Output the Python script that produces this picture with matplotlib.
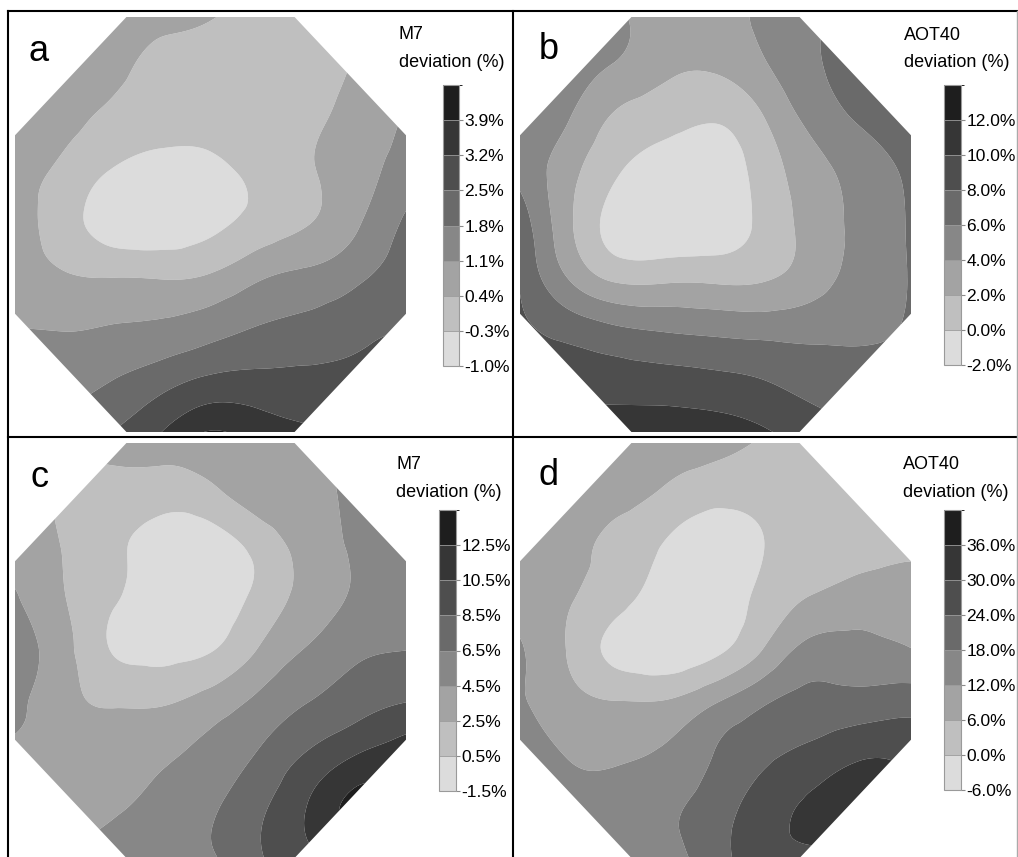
import numpy as np
import matplotlib as mpl
import matplotlib.pyplot as plt
import matplotlib.tri as mtri
from matplotlib.patches import Polygon
from matplotlib.lines import Line2D
from matplotlib.colors import ListedColormap, BoundaryNorm

plt.rcParams['font.family'] = ['Liberation Sans', 'DejaVu Sans']

W, H = 1018, 857

# Sample positions across the octagon's bounding box (0 = left / top edge)
GRID_U = [0.0, 0.125, 0.25, 0.375, 0.5, 0.625, 0.75, 0.875, 1.0]
GRID_V = [0.0, 0.125, 0.25, 0.375, 0.5, 0.625, 0.75, 0.875, 1.0]

# Deviation fields (%), rows run from the top of the domain to the bottom
M7_A = [
    [1.10, 0.96, 0.82, 0.68, 0.44, 0.12, 0.05, 0.40, 0.75],
    [1.03, 0.82, 0.61, 0.12, 0.05, -0.02, 0.12, 0.47, 0.89],
    [0.75, 0.58, 0.19, -0.09, -0.09, 0.02, 0.26, 0.68, 1.17],
    [0.61, 0.23, -0.37, -0.62, -0.51, -0.09, 0.33, 0.82, 1.38],
    [0.58, 0.05, -0.65, -0.76, -0.48, -0.02, 0.39, 1.03, 1.94],
    [0.72, 0.47, 0.37, 0.33, 0.47, 1.00, 1.28, 1.66, 2.15],
    [1.10, 1.07, 1.14, 1.24, 1.52, 1.84, 2.01, 2.29, 2.50],
    [1.52, 1.52, 1.80, 2.22, 2.64, 2.71, 2.71, 2.71, 2.85],
    [1.80, 2.01, 2.50, 3.20, 3.94, 3.55, 3.27, 3.06, 2.99],
]
AOT40_B = [
    [5.2, 4.8, 4.2, 3.2, 3.2, 4.5, 5.8, 6.4, 6.8],
    [5.8, 4.8, 3.7, 2.4, 2.2, 3.7, 5.7, 6.8, 7.6],
    [5.2, 4.0, 1.5, 0.6, 0.1, 1.9, 4.6, 6.2, 7.2],
    [5.4, 2.7, 0.1, -1.0, -1.1, 0.9, 3.2, 4.9, 6.4],
    [7.2, 2.4, -0.8, -1.4, -1.1, 0.6, 2.8, 4.6, 6.2],
    [7.8, 3.8, 1.4, 1.4, 1.4, 1.7, 3.1, 4.8, 6.1],
    [8.4, 7.2, 6.2, 5.7, 5.4, 5.2, 5.3, 5.6, 6.2],
    [9.2, 9.2, 9.0, 8.8, 8.5, 8.0, 7.2, 6.8, 6.6],
    [10.0, 10.8, 11.2, 11.2, 11.0, 10.2, 9.0, 8.0, 7.2],
]
M7_C = [
    [3.1, 2.7, 3.1, 3.3, 3.5, 3.7, 4.1, 4.9, 5.7],
    [3.3, 2.3, 1.7, 1.3, 1.9, 3.6, 4.0, 5.1, 6.1],
    [3.5, 2.4, 0.9, -0.3, -0.4, 1.2, 3.3, 4.9, 6.3],
    [4.7, 2.6, 0.7, -0.5, -0.5, 1.1, 3.3, 4.8, 5.5],
    [5.1, 3.2, 0.4, -0.1, 0.4, 2.7, 4.7, 6.1, 6.5],
    [5.1, 3.1, 2.3, 2.3, 3.4, 5.0, 6.5, 7.7, 8.5],
    [4.1, 3.5, 3.1, 4.1, 5.1, 6.7, 8.7, 10.5, 11.5],
    [4.1, 3.9, 4.1, 5.3, 6.2, 8.1, 10.6, 13.1, 11.5],
    [4.3, 4.5, 5.5, 6.1, 6.3, 8.3, 10.1, 11.1, 11.1],
]
AOT40_D = [
    [12.0, 10.8, 9.6, 8.4, 7.2, 5.7, 4.2, 3.0, 3.6],
    [11.4, 10.2, 8.4, 4.8, 2.1, 2.4, 3.0, 3.3, 4.2],
    [10.2, 8.7, 3.6, -0.6, -3.6, 0.0, 2.4, 3.6, 5.1],
    [9.6, 6.6, 1.8, -3.0, -3.0, 1.8, 6.6, 9.0, 8.7],
    [12.6, 5.4, -1.8, -4.2, -1.2, 6.6, 14.1, 13.8, 12.3],
    [12.6, 8.4, 6.3, 6.6, 11.7, 17.4, 20.1, 20.4, 21.6],
    [14.4, 11.7, 11.4, 12.9, 18.3, 22.8, 25.8, 29.1, 28.2],
    [14.4, 13.8, 14.4, 16.8, 21.0, 27.0, 31.2, 33.6, 31.2],
    [13.8, 13.8, 15.0, 16.2, 21.5, 27.5, 28.5, 29.0, 28.5],
]

LEVELS_A = [-1.0, -0.3, 0.4, 1.1, 1.8, 2.5, 3.2, 3.9, 4.6]
LEVELS_B = [-2.0, 0.0, 2.0, 4.0, 6.0, 8.0, 10.0, 12.0, 14.0]
LEVELS_C = [-1.5, 0.5, 2.5, 4.5, 6.5, 8.5, 10.5, 12.5, 14.5]
LEVELS_D = [-6.0, 0.0, 6.0, 12.0, 18.0, 24.0, 30.0, 36.0, 42.0]

GRAYS = ['#dcdcdc', '#bfbfbf', '#a3a3a3', '#878787',
         '#6a6a6a', '#4e4e4e', '#363636', '#1e1e1e']

CUT = 0.285
OCTAGON = [(CUT, 0), (1 - CUT, 0), (1, CUT), (1, 1 - CUT),
           (1 - CUT, 1), (CUT, 1), (0, 1 - CUT), (0, CUT)]

# letter, variable, field, levels, octagon box, colorbar box, title x/baselines, letter x/baseline (px)
PANELS = [
    ('a', 'M7', M7_A, LEVELS_A, (15, 17, 391, 415), (443, 85, 16, 281), (399, 39, 67), (28, 61)),
    ('b', 'AOT40', AOT40_B, LEVELS_B, (520, 17, 391, 415), (944, 85, 17, 280), (904, 40, 67), (539, 59)),
    ('c', 'M7', M7_C, LEVELS_C, (15, 443, 391, 415), (439, 510, 17, 281), (396, 469, 497), (30, 487)),
    ('d', 'AOT40', AOT40_D, LEVELS_D, (520, 443, 391, 415), (944, 510, 17, 280), (903, 469, 497), (539, 485)),
]


def px_box(x0, y0, w, h):
    return [x0 / W, 1 - (y0 + h) / H, w / W, h / H]


fig = plt.figure(figsize=(W / 100, H / 100), dpi=100)

uu, vv = np.meshgrid(GRID_U, GRID_V)
triang = mtri.Triangulation(uu.ravel(), vv.ravel())
refiner = mtri.UniformTriRefiner(triang)

for letter, var, field, levels, obox, cbox, tpos, lpos in PANELS:
    ax = fig.add_axes(px_box(*obox))
    ax.set_xlim(0, 1)
    ax.set_ylim(1, 0)
    ax.axis('off')

    tri_f, z_f = refiner.refine_field(np.asarray(field, dtype=float).ravel(), subdiv=4)
    z_f = np.clip(z_f, levels[0], levels[-1])
    cs = ax.tricontourf(tri_f, z_f, levels=levels, colors=GRAYS, antialiased=True)
    clip = Polygon(OCTAGON, closed=True, transform=ax.transData,
                   facecolor='none', edgecolor='none')
    cs.set_clip_path(clip)

    # colorbar
    cax = fig.add_axes(px_box(*cbox))
    cmap = ListedColormap(GRAYS)
    norm = BoundaryNorm(levels, cmap.N)
    cb = fig.colorbar(mpl.cm.ScalarMappable(norm=norm, cmap=cmap), cax=cax,
                      ticks=levels[:-1], drawedges=True)
    cb.ax.set_yticklabels([f"{t:.1f}%" for t in levels[:-1]])
    cb.outline.set_edgecolor('#9a9a9a')
    cb.outline.set_linewidth(0.8)
    cb.dividers.set_color('#9a9a9a')
    cb.dividers.set_linewidth(0.6)
    cb.ax.tick_params(length=3, width=0.8, color='#8a8a8a', pad=1, labelsize=12.5)

    tx, ty1, ty2 = tpos
    fig.text(tx / W, 1 - ty1 / H, var, fontsize=13, va='baseline', ha='left')
    fig.text(tx / W, 1 - ty2 / H, 'deviation (%)', fontsize=13, va='baseline', ha='left')
    fig.text(lpos[0] / W, 1 - lpos[1] / H, letter, fontsize=26, va='baseline', ha='left')

# panel frame
def hline(y, x0, x1, **kw):
    fig.add_artist(Line2D([x0 / W, x1 / W], [1 - y / H, 1 - y / H],
                          transform=fig.transFigure, **kw))


def vline(x, y0, y1, **kw):
    fig.add_artist(Line2D([x / W, x / W], [1 - y0 / H, 1 - y1 / H],
                          transform=fig.transFigure, **kw))


hline(11, 8, 1017, color='black', lw=1.5)
hline(437, 8, 1017, color='black', lw=1.5)
vline(8, 11, 857, color='black', lw=1.5)
vline(513, 11, 857, color='black', lw=1.5)
vline(1017, 11, 857, color='#aaaaaa', lw=1.0)

fig.savefig('out.png', dpi=100, facecolor='white')
